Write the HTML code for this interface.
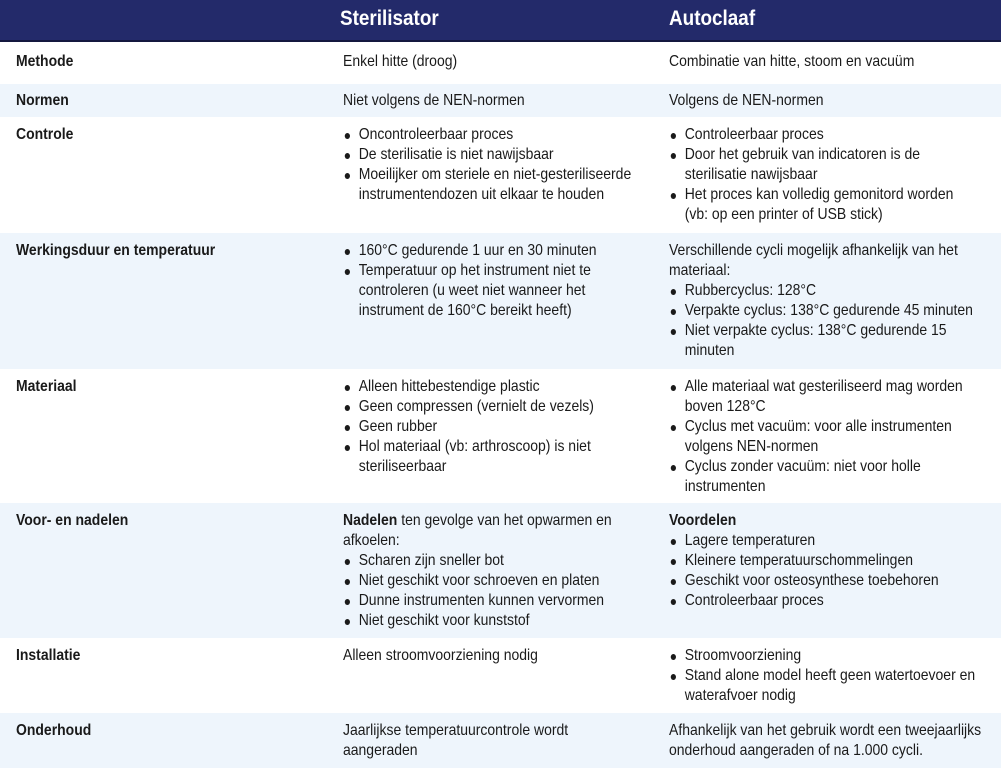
<!DOCTYPE html>
<html><head><meta charset="utf-8"><style>
*{margin:0;padding:0;box-sizing:border-box}
body{width:1001px;height:773px;background:#fff;position:relative;overflow:hidden;font-family:"Liberation Sans",sans-serif;font-size:16px;color:#1a1a1a;}
.hdr{position:absolute;left:0;top:0;width:1001px;height:42px;background:#232a6a;border-bottom:2px solid #14183f}
.hdr span{position:absolute;top:7px;color:#fff;font-weight:bold;font-size:21px;transform:scaleX(.9);transform-origin:0 0}
.row{position:absolute;left:0;width:1001px}
.b{background:#eef5fc}
.c{position:absolute;top:8px;line-height:20px;white-space:nowrap;transform:scaleX(.873);transform-origin:0 0}
.l{left:16px;font-weight:bold}
.c2{left:343px}.c3{left:669px}
ul{list-style:none}
li{position:relative;padding-left:18px}
li:before{content:"";position:absolute;left:2px;top:8px;width:6px;height:6px;border-radius:50%;background:#1a1a1a}
</style></head><body>
<div class="hdr"><span style="left:340px">Sterilisator</span><span style="left:669px">Autoclaaf</span></div>

<div class="row" style="top:44px;height:40px"><div class="c l">Methode</div><div class="c c2">Enkel hitte (droog)</div><div class="c c3">Combinatie van hitte, stoom en vacuüm</div></div>

<div class="row b" style="top:84px;height:33px"><div class="c l" style="top:7px">Normen</div><div class="c c2" style="top:7px">Niet volgens de NEN-normen</div><div class="c c3" style="top:7px">Volgens de NEN-normen</div></div>

<div class="row" style="top:117px;height:116px"><div class="c l">Controle</div>
<ul class="c c2"><li>Oncontroleerbaar proces</li><li>De sterilisatie is niet nawijsbaar</li><li>Moeilijker om steriele en niet-gesteriliseerde<br>instrumentendozen uit elkaar te houden</li></ul>
<ul class="c c3"><li>Controleerbaar proces</li><li>Door het gebruik van indicatoren is de<br>sterilisatie nawijsbaar</li><li>Het proces kan volledig gemonitord worden<br>(vb: op een printer of USB stick)</li></ul></div>

<div class="row b" style="top:233px;height:136px"><div class="c l">Werkingsduur en temperatuur</div>
<ul class="c c2"><li>160°C gedurende 1 uur en 30 minuten</li><li>Temperatuur op het instrument niet te<br>controleren (u weet niet wanneer het<br>instrument de 160°C bereikt heeft)</li></ul>
<div class="c c3">Verschillende cycli mogelijk afhankelijk van het<br>materiaal:<ul><li>Rubbercyclus: 128°C</li><li>Verpakte cyclus: 138°C gedurende 45 minuten</li><li>Niet verpakte cyclus: 138°C gedurende 15<br>minuten</li></ul></div></div>

<div class="row" style="top:369px;height:134px"><div class="c l">Materiaal</div>
<ul class="c c2"><li>Alleen hittebestendige plastic</li><li>Geen compressen (vernielt de vezels)</li><li>Geen rubber</li><li>Hol materiaal (vb: arthroscoop) is niet<br>steriliseerbaar</li></ul>
<ul class="c c3"><li>Alle materiaal wat gesteriliseerd mag worden<br>boven 128°C</li><li>Cyclus met vacuüm: voor alle instrumenten<br>volgens NEN-normen</li><li>Cyclus zonder vacuüm: niet voor holle<br>instrumenten</li></ul></div>

<div class="row b" style="top:503px;height:135px"><div class="c l">Voor- en nadelen</div>
<div class="c c2"><b>Nadelen</b> ten gevolge van het opwarmen en<br>afkoelen:<ul><li>Scharen zijn sneller bot</li><li>Niet geschikt voor schroeven en platen</li><li>Dunne instrumenten kunnen vervormen</li><li>Niet geschikt voor kunststof</li></ul></div>
<div class="c c3"><b>Voordelen</b><ul><li>Lagere temperaturen</li><li>Kleinere temperatuurschommelingen</li><li>Geschikt voor osteosynthese toebehoren</li><li>Controleerbaar proces</li></ul></div></div>

<div class="row" style="top:638px;height:75px"><div class="c l">Installatie</div><div class="c c2">Alleen stroomvoorziening nodig</div>
<ul class="c c3"><li>Stroomvoorziening</li><li>Stand alone model heeft geen watertoevoer en<br>waterafvoer nodig</li></ul></div>

<div class="row b" style="top:713px;height:55px"><div class="c l">Onderhoud</div><div class="c c2">Jaarlijkse temperatuurcontrole wordt<br>aangeraden</div><div class="c c3">Afhankelijk van het gebruik wordt een tweejaarlijks<br>onderhoud aangeraden of na 1.000 cycli.</div></div>
</body></html>
